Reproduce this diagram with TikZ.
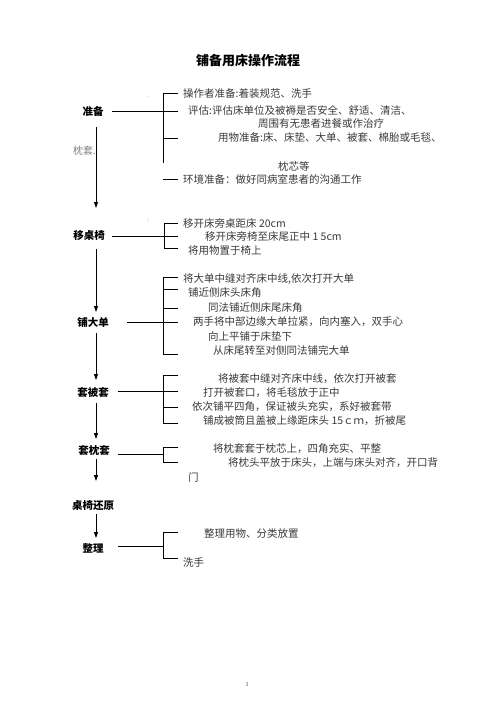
\documentclass[tikz,border=0pt]{standalone}
\usepackage{fontspec}
\setmainfont{Liberation Serif}
\newfontfamily\cjk{Noto Sans CJK SC}
\usetikzlibrary{arrows.meta}
\definecolor{txtgray}{HTML}{3A3A3A}
\tikzset{
  item/.style={anchor=west, inner sep=0pt, text=txtgray, font=\cjk\fontsize{10.5}{12}\selectfont},
  stage/.style={inner sep=0pt, text=black, font=\cjk\bfseries\fontsize{10.5}{12}\selectfont},
  ttl/.style={inner sep=0pt, text=black, font=\cjk\bfseries\fontsize{13}{15}\selectfont},
  ln/.style={line width=0.8pt, black},
  arr/.style={line width=0.8pt, black, -{Triangle[width=4pt,length=6pt]}}
}
\begin{document}
\begin{tikzpicture}[x=1pt,y=-1pt]
\useasboundingbox (0,0) rectangle (496,702);
\fill[white] (0,0) rectangle (496,702);

\node[ttl] (title) at (248,61) {铺备用床操作流程};

% ---------- 准备 ----------
\node[stage] (s1) at (93,111) {准备};
\node[item, text=gray, font=\cjk\fontsize{10}{12}\selectfont] (zt) at (73,151) {枕套.};
\node[inner sep=0pt, font=\fontsize{6}{6}\selectfont, text=gray] (dot1) at (148,97) {.};
\coordinate (s1L) at (112,111);
\coordinate (b1t) at (163,93);
\coordinate (b1m) at (163,111);
\coordinate (b1c) at (163,138);
\coordinate (b1b) at (163,163);
\coordinate (b1e) at (163,179);
\coordinate (r1t) at (178,93);
\coordinate (r1m) at (178,111);
\coordinate (r1c) at (178,138);
\coordinate (r1e) at (178,179);
\draw[ln] (s1L) -- (r1m);
\draw[ln] (r1t) -- (b1t) -- (b1b);
\draw[ln] (b1c) -- (r1c);
\draw[ln] (b1e) -- (r1e);
\node[item] (t11) at (183,94) {操作者准备:着装规范、洗手};
\node[item] (t12) at (188,110) {评估:评估床单位及被褥是否安全、舒适、清洁、};
\node[item] (t13) at (258,123.5) {周围有无患者进餐或作治疗};
\node[item] (t14) at (218,137.5) {用物准备:床、床垫、大单、被套、棉胎或毛毯、};
\node[item] (t15) at (278,166) {枕芯等};
\node[item] (t16) at (183,179.5) {环境准备：做好同病室患者的沟通工作};

% ---------- 移桌椅 ----------
\coordinate (a1s) at (96,127);
\coordinate (a1e) at (96,208);
\draw[arr] (a1s) -- (a1e);
\node[stage] (s2) at (89,236) {移桌椅};
\node[inner sep=0pt, font=\fontsize{6}{6}\selectfont, text=gray] (dot2) at (148,220) {:};
\coordinate (s2L) at (112,236);
\coordinate (b2t) at (164,223);
\coordinate (b2b) at (164,248);
\coordinate (r2t) at (178,223);
\coordinate (r2m) at (178,236);
\coordinate (r2b) at (178,248);
\draw[ln] (s2L) -- (r2m);
\draw[ln] (r2t) -- (b2t) -- (b2b) -- (r2b);
\node[item] (t21) at (183,223.5) {移开床旁桌距床 20cm};
\node[item] (t22) at (205,236.5) {移开床旁椅至床尾正中 1 5cm};
\node[item] (t23) at (188,251) {将用物置于椅上};

% ---------- 铺大单 ----------
\coordinate (a2s) at (96,249);
\coordinate (a2e) at (96,312);
\draw[arr] (a2s) -- (a2e);
\node[stage] (s3) at (93,322) {铺大单};
\coordinate (s3L) at (127,322);
\coordinate (b3t) at (163,277);
\coordinate (b3a) at (163,289);
\coordinate (b3c) at (163,308);
\coordinate (b3b) at (163,354);
\coordinate (r3t) at (178,277);
\coordinate (r3a) at (178,289);
\coordinate (r3c) at (178,308);
\coordinate (r3m) at (178,322);
\coordinate (r3b) at (178,354);
\draw[ln] (s3L) -- (r3m);
\draw[ln] (r3t) -- (b3t) -- (b3b) -- (r3b);
\draw[ln] (b3a) -- (r3a);
\draw[ln] (b3c) -- (r3c);
\node[item] (t31) at (183,279) {将大单中缝对齐床中线,依次打开大单};
\node[item] (t32) at (188,293) {铺近侧床头床角};
\node[item] (t33) at (208,308) {同法铺近侧床尾床角};
\node[item] (t34) at (193,322) {两手将中部边缘大单拉紧，向内塞入，双手心};
\node[item] (t35) at (208,336) {向上平铺于床垫下};
\node[item] (t36) at (213,350) {从床尾转至对侧同法铺完大单};

% ---------- 套被套 ----------
\coordinate (a3s) at (96,333);
\coordinate (a3e) at (96,380);
\draw[arr] (a3s) -- (a3e);
\node[stage] (s4) at (93,392) {套被套};
\coordinate (s4L) at (118,391);
\coordinate (b4t) at (163,375);
\coordinate (b4c) at (163,407);
\coordinate (b4b) at (163,423);
\coordinate (r4t) at (178,375);
\coordinate (r4m) at (178,391);
\coordinate (r4c) at (178,407);
\coordinate (r4b) at (178,423);
\draw[ln] (s4L) -- (r4m);
\draw[ln] (r4t) -- (b4t) -- (b4b) -- (r4b);
\draw[ln] (b4c) -- (r4c);
\node[item] (t41) at (218,378.5) {将被套中缝对齐床中线，依次打开被套};
\node[item] (t42) at (203,393) {打开被套口，将毛毯放于正中};
\node[item] (t43) at (192,406.5) {依次铺平四角，保证被头充实，系好被套带};
\node[item] (t44) at (203,421) {铺成被筒且盖被上缘距床头 15ｃｍ，折被尾};

% ---------- 套枕套 ----------
\coordinate (a4s) at (96,403);
\coordinate (a4e) at (96,439);
\draw[arr] (a4s) -- (a4e);
\node[stage] (s5) at (94,451) {套枕套};
\coordinate (s5L) at (118,454);
\coordinate (b5t) at (163,447);
\coordinate (b5m) at (163,454);
\coordinate (b5b) at (163,462);
\coordinate (r5t) at (178,447);
\coordinate (r5b) at (178,462);
\draw[ln] (s5L) -- (b5m);
\draw[ln] (r5t) -- (b5t) -- (b5b) -- (r5b);
\node[item] (t51) at (213,448.5) {将枕套套于枕芯上，四角充实、平整};
\node[item] (t52) at (228,463) {将枕头平放于床头，上端与床头对齐，开口背};
\node[item] (t53) at (188,477) {门};

% ---------- 桌椅还原 ----------
\coordinate (a5s) at (96,459);
\coordinate (a5e) at (96,481);
\draw[arr] (a5s) -- (a5e);
\node[stage] (s6) at (93,506) {桌椅还原};

% ---------- 整理 ----------
\coordinate (a6s) at (96,514);
\coordinate (a6e) at (96,538);
\draw[arr] (a6s) -- (a6e);
\node[stage] (s7) at (93,548) {整理};
\coordinate (s7L) at (118,546);
\coordinate (b7t) at (163,532);
\coordinate (b7m) at (163,546);
\coordinate (b7b) at (163,558);
\coordinate (r7t) at (178,532);
\coordinate (r7b) at (178,558);
\draw[ln] (s7L) -- (b7m);
\draw[ln] (r7t) -- (b7t) -- (b7b) -- (r7b);
\node[item] (t71) at (204,533.5) {整理用物、分类放置};
\node[item] (t72) at (183,563) {洗手};

\node[inner sep=0pt, font=\fontsize{6}{7}\selectfont, text=txtgray] (pg) at (247,685) {1};
\end{tikzpicture}
\end{document}
